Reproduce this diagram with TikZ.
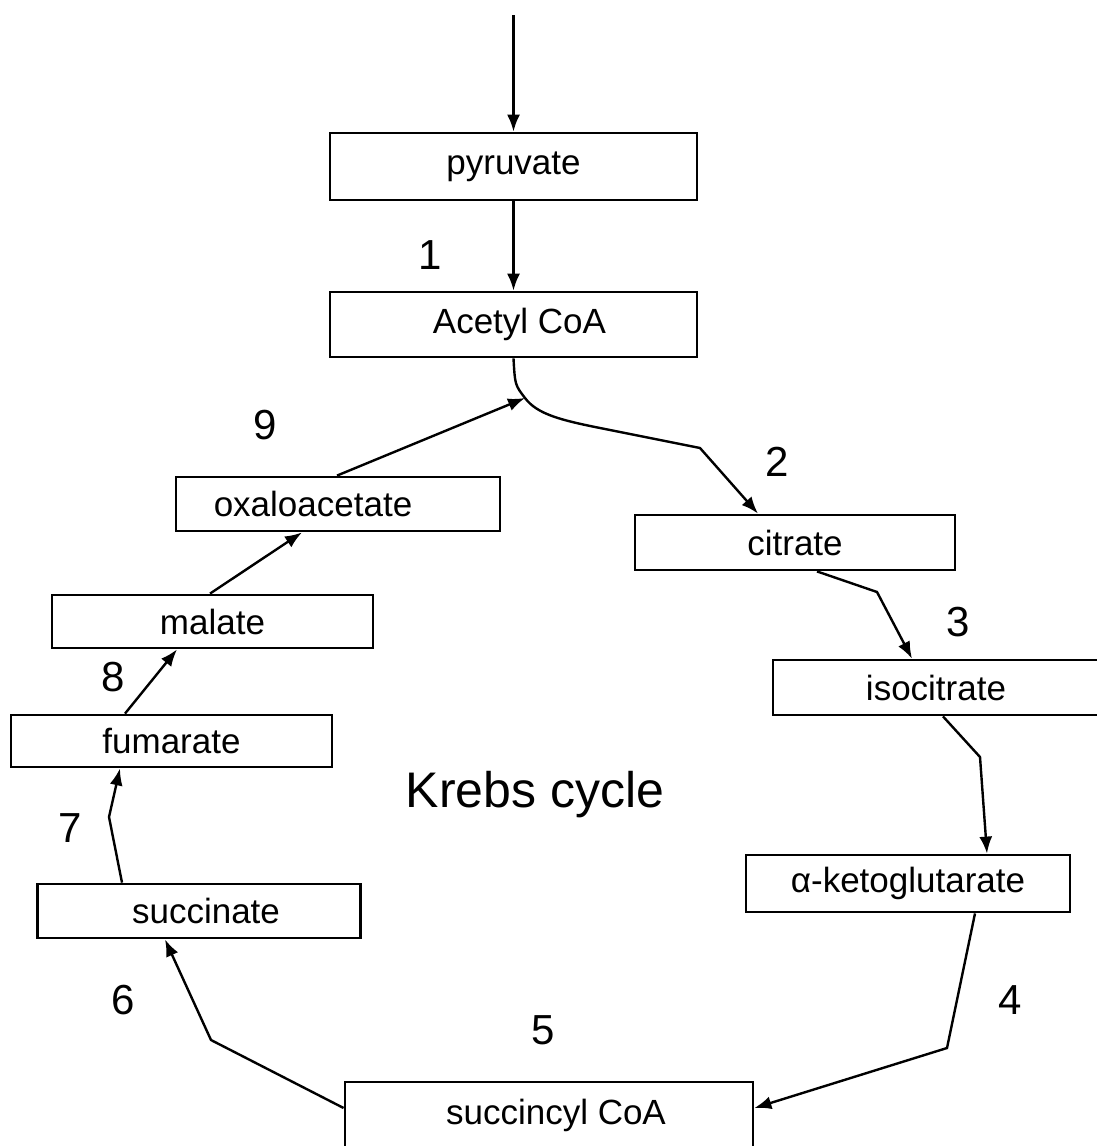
\documentclass[tikz,border=0pt]{standalone}
\usepackage{fontspec}
\setmainfont{Liberation Sans}
\usetikzlibrary{arrows,arrows.meta}
\tikzset{
  metab/.style = {rectangle, draw=black, line width=2.8pt, inner sep=0pt,
    font=\fontsize{35}{40}\selectfont, minimum height=55pt},% metabolite box
  stepno/.style = {font=\fontsize{42}{46}\selectfont},% reaction number
  rxn/.style = {-{Latex[length=17pt,width=13pt]}, line width=2.4pt}% reaction arrow
}

\begin{document}
\begin{tikzpicture}[x=1pt,y=-1pt]
\useasboundingbox (0,0) rectangle (1097,1146);
% metabolites
\node [metab, minimum width=367pt, minimum height=67pt] (pyr)  at (513.5,166.5) {pyruvate};
\node [metab, minimum width=367pt, minimum height=65pt] (acoa) at (513.5,324.5) {\hspace*{12pt}Acetyl CoA};
\node [metab, minimum width=324pt, minimum height=54pt] (oaa)  at (338,504)     {oxaloacetate\hspace*{50pt}};
\node [metab, minimum width=320pt] (cit)  at (795,542.5)   {citrate};
\node [metab, minimum width=321pt, minimum height=53pt] (mal)  at (212.5,621.5) {malate};
\node [metab, minimum width=326pt] (icit) at (936,687.5)   {isocitrate};
\node [metab, minimum width=321pt, minimum height=52pt] (fum)  at (171.5,741)   {fumarate};
\node [metab, minimum width=324pt, minimum height=57pt] (akg)  at (908,883.5)   {α-ketoglutarate};
\node [metab, minimum width=323pt, minimum height=54pt] (suc)  at (199,911)     {\hspace*{14pt}succinate};
\node [metab, minimum width=408pt, minimum height=66pt] (sucoa) at (549,1115)   {\hspace*{14pt}succincyl CoA};
\node [font=\fontsize{50}{56}\selectfont] (title) at (535,795) {Krebs cycle};

% step numbers
\node [stepno] (n1) at (430,255)  {1};
\node [stepno] (n2) at (777,462)  {2};
\node [stepno] (n3) at (958,622)  {3};
\node [stepno] (n4) at (1010,1000) {4};
\node [stepno] (n5) at (543,1030) {5};
\node [stepno] (n6) at (123,1000) {6};
\node [stepno] (n7) at (70,828)   {7};
\node [stepno] (n8) at (113,677)  {8};
\node [stepno] (n9) at (265,425)  {9};

% reactions
\coordinate (in) at (513.5,15);
\coordinate (jn) at (525,398);
\draw [rxn] (in) -- (pyr);
\draw [rxn] (pyr) -- (acoa);
\draw [rxn] (acoa.south) .. controls (515,385) .. (jn)
  .. controls (537,414) and (560,420) .. (600,428) -- (700,448)
  -- ([xshift=-37pt]cit.north);
\draw [rxn] ([xshift=22pt]cit.south) -- (877,592) -- ([xshift=-24pt]icit.north);
\draw [rxn] ([xshift=7pt]icit.south) -- (980,757) -- ([xshift=79pt]akg.north);
\draw [rxn] ([xshift=67pt]akg.south) -- (947,1048) -- ([yshift=7pt]sucoa.east);
\draw [rxn] ([yshift=7pt]sucoa.west) -- (211,1040) -- ([xshift=-34pt]suc.north |- suc.south);
\draw [rxn] ([xshift=-77pt]suc.north) -- (109,817) -- ([xshift=-51.5pt]fum.south);
\draw [rxn] ([xshift=-46.5pt]fum.north) -- ([xshift=-35.5pt]mal.south);
\draw [rxn] ([xshift=-2.5pt]mal.north) -- ([xshift=-36pt]oaa.south);
\draw [rxn] ([xshift=-1pt]oaa.north) -- (jn);
\end{tikzpicture}
\end{document}
